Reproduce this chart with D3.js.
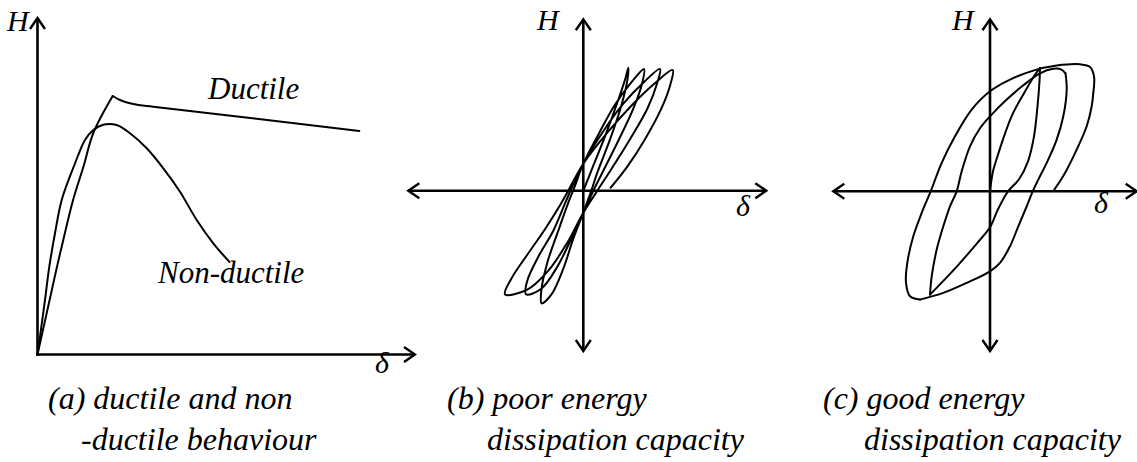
<!DOCTYPE html>
<html>
<head>
<meta charset="utf-8">
<script src="https://cdn.jsdelivr.net/npm/d3@7"></script>
</head>
<body style="margin:0">
<svg id="fig" width="1137" height="462"></svg>
<script>
// ---------- (a) monotonic push-over response: [δ, H] from the origin ----------
const ductileRise = [[0,0],[12,54],[20,90],[28,124],[36,156],[46,188],[56,222],[75.2,258.5]];
const ductileSoftening = [[75.2,258.5],[82.5,254.5],[92.5,251.2],[102.5,249.2],[115.8,247.8],[321.8,223.5]];
const nonDuctile = [[0,0],[7.5,54.5],[11.8,87.8],[17.5,121.2],[24.2,154.5],[36.5,188.5],[47.5,214.5],
  [55.8,224.5],[66.5,230],[79.2,229.5],[92.5,221.2],[109.2,206.2],[125.8,186.2],[142.5,162.8],
  [159.2,134.5],[175.8,111.2],[192,92.5]];
const axisA = { delta: [0, 377.5], H: [0, 336.5] };

// ---------- (b) pinched, slender hysteresis cycles: [δ, H] ----------
const poorLoop = [
  [0,0],[10,25],[22,55],[34,88],[42,112],[45,123],
  [44,110],[38,85],[27,52],[14,18],[8,0],[0,-22],[-10,-48],[-20,-78],[-32,-104],[-41.6,-112.6],
  [-42,-100],[-36,-72],[-25,-40],[-15,-12],[-9,3],[0,27],[15,56],[31,85],[47,107],[60.7,121.7],
  [59,108],[50,82],[35,50],[18,16],[10,0],[0,-22],[-12,-48],[-26,-76],[-42,-98],[-57.3,-103.6],
  [-56,-90],[-45,-66],[-30,-40],[-18,-12],[-11,4],[0,27],[19,58],[40,87],[61,109],[76.7,121.7],
  [74,108],[64,82],[47,52],[27,20],[14,0],[0,-22],[-16,-52],[-35,-80],[-56,-99],[-78.3,-103.6],
  [-72,-88],[-56,-64],[-38,-38],[-23,-14],[-14,2],[0,27],[24,58],[49,86],[71,107],[89.4,120.7],
  [87,106],[78,82],[62,52],[44,24],[27.4,3]
];
const axisB = { delta: [-175, 183], H: [-160.3, 171.4] };

// ---------- (c) full, stable hysteresis cycles: one array per branch ----------
const goodLoading = [[0,0],[3,20],[7.5,35],[13,52],[22,76],[34,98],[44,115],[50,123.4]];
const goodUnload1 = [[50,123.4],[49.5,110],[47.5,85],[44,55],[38,30],[29,12],[18,0],[8,-18],[0,-36],
  [-13,-52],[-33,-75],[-60,-103.3]];
const goodReload1 = [[-60,-103.3],[-58.3,-85],[-53.3,-58.3],[-46.7,-35],[-40,-15],[-33.3,0],[-28.3,20],
  [-20,45],[-10,63],[0,75],[16.7,91.7],[33.3,106],[50,118],[63,122.5],[71,122],[75.5,118]];
const goodUnload2 = [[75.5,118],[76.7,101.7],[73.3,75],[66.7,51.7],[56.7,28.4],[48.3,11.7],[42.7,0],
  [36.7,-15],[28.3,-35],[20,-55],[10,-71.6],[0,-80],[-23.3,-91.6],[-46.7,-101.6],[-70,-108.3]];
const goodReload2 = [[-70,-108.3],[-80,-105],[-84,-91.6],[-82.7,-71.6],[-76.7,-45],[-68.3,-21.6],
  [-59.3,0],[-48.3,28.4],[-35,55],[-18.3,81.7],[0,100],[20,111.7],[43.3,120.7],[66.7,125.7],
  [90,127],[100,124.4],[104,115],[103.3,98.4]];
const goodUnload3 = [[103.3,98.4],[101.7,85],[96.7,65],[86.7,41.7],[75,18.4],[64.3,1.7]];
const axisC = { delta: [-156.7, 146.7], H: [-159.7, 172] };

// ---------- labels ----------
const curveLabels = ["Ductile", "Non-ductile"];
const captionA = ["(a) ductile and non", "-ductile behaviour"];
const captionB = ["(b) poor energy", "dissipation capacity"];
const captionC = ["(c) good energy", "dissipation capacity"];

const svg = d3.select("#fig");

// open chevron arrowhead
svg.append("defs").append("marker")
  .attr("id", "arrow")
  .attr("markerUnits", "userSpaceOnUse")
  .attr("viewBox", "-12 -9 14 18")
  .attr("markerWidth", 14).attr("markerHeight", 18)
  .attr("refX", 0).attr("refY", 0)
  .attr("orient", "auto-start-reverse")
  .append("path")
  .attr("d", "M-11,-7.5 L0,0 L-11,7.5")
  .attr("fill", "none").attr("stroke", "#000").attr("stroke-width", 2.4)
  .attr("stroke-linejoin", "miter");

function axisLine(g, x1, y1, x2, y2, both) {
  const l = g.append("line")
    .attr("x1", x1).attr("y1", y1).attr("x2", x2).attr("y2", y2)
    .attr("stroke", "#000").attr("stroke-width", 2.6)
    .attr("marker-end", "url(#arrow)");
  if (both) l.attr("marker-start", "url(#arrow)");
}

function curve(g, data, x, y) {
  g.append("path")
    .datum(data)
    .attr("fill", "none")
    .attr("stroke", "#000")
    .attr("stroke-width", 2)
    .attr("stroke-linejoin", "round")
    .attr("stroke-linecap", "round")
    .attr("d", d3.line().x(d => x(d[0])).y(d => y(d[1])).curve(d3.curveCatmullRom.alpha(0.5)));
}

function label(g, txt, x, y, size) {
  g.append("text")
    .attr("x", x).attr("y", y)
    .attr("font-family", "Liberation Serif")
    .attr("font-style", "italic")
    .attr("font-size", size)
    .text(txt);
}

// ---------------- panel (a) ----------------
{
  const g = svg.append("g");
  const x = d3.scaleLinear().domain(axisA.delta).range([37.5, 415]);
  const y = d3.scaleLinear().domain(axisA.H).range([354.5, 18]);
  axisLine(g, x(0), y(0) + 1.3, x(0), y(axisA.H[1]), false);
  axisLine(g, x(0) - 1.3, y(0), x(axisA.delta[1]), y(0), false);
  curve(g, ductileRise, x, y);
  curve(g, ductileSoftening, x, y);
  curve(g, nonDuctile, x, y);
  label(g, "H", 7, 31, 30);
  label(g, "δ", 375, 373, 30);
  label(g, curveLabels[0], 208, 99, 31);
  label(g, curveLabels[1], 158, 283, 31);
}

// ---------------- panel (b) ----------------
{
  const g = svg.append("g");
  const x = d3.scaleLinear().domain(axisB.delta).range([408.3, 766.3]);
  const y = d3.scaleLinear().domain(axisB.H).range([351, 19.3]);
  axisLine(g, x(axisB.delta[0]), y(0), x(axisB.delta[1]), y(0), true);
  axisLine(g, x(0), y(axisB.H[0]), x(0), y(axisB.H[1]), true);
  curve(g, poorLoop, x, y);
  label(g, "H", 537, 30, 30);
  label(g, "δ", 736, 216, 30);
}

// ---------------- panel (c) ----------------
{
  const g = svg.append("g");
  const x = d3.scaleLinear().domain(axisC.delta).range([833.3, 1136.7]);
  const y = d3.scaleLinear().domain(axisC.H).range([351, 19.3]);
  axisLine(g, x(axisC.delta[0]), y(0), x(axisC.delta[1]), y(0), true);
  axisLine(g, x(0), y(axisC.H[0]), x(0), y(axisC.H[1]), true);
  [goodLoading, goodUnload1, goodReload1, goodUnload2, goodReload2, goodUnload3]
    .forEach(b => curve(g, b, x, y));
  label(g, "H", 952, 30, 30);
  label(g, "δ", 1094, 213, 30);
}

// ---------------- captions ----------------
const captions = svg.append("g");
[[captionA, 48, 81], [captionB, 447, 487], [captionC, 823, 864]].forEach(([lines, x1, x2]) => {
  label(captions, lines[0], x1, 409, 32);
  label(captions, lines[1], x2, 450, 32);
});
</script>
</body>
</html>
